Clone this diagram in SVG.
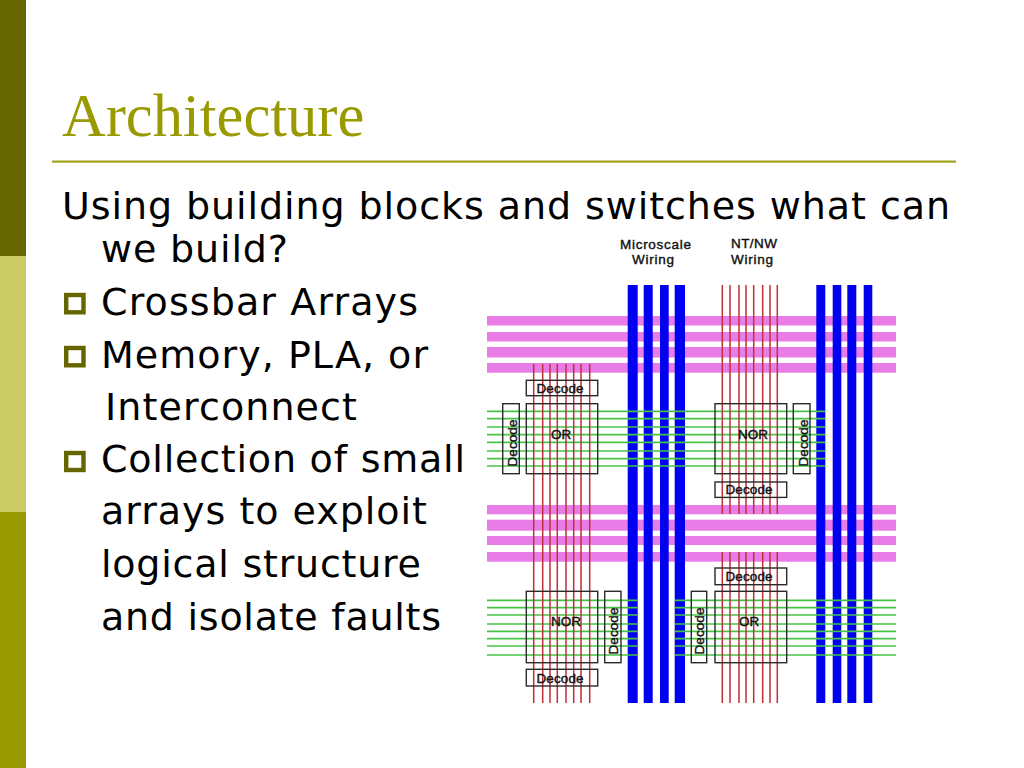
<svg xmlns="http://www.w3.org/2000/svg" width="1024" height="768" viewBox="0 0 1024 768">
<style>
.t{font-family:"DejaVu Sans",sans-serif;font-size:38px;fill:#000}
.s{font-family:"Liberation Sans",Arial,sans-serif;font-size:13.5px;fill:#111;stroke:#111;stroke-width:.4}
.c{text-anchor:middle}
.box{fill:none;stroke:#2a2a2a;stroke-width:1.4}
.pink{fill:#e87de8}
.blue{fill:#0000f0}
.red{stroke:#c03038;stroke-width:1.5;fill:none}
.green{stroke:#46c346;stroke-width:1.7;fill:none}
.bul{fill:none;stroke:#666600;stroke-width:4.4}
</style>
<rect width="1024" height="768" fill="#fff"/>
<g id="side-bars">
<rect x="0" y="0" width="26" height="256" fill="#666600"/>
<rect x="0" y="256" width="26" height="256" fill="#cccc66"/>
<rect x="0" y="512" width="26" height="256" fill="#999900"/>
</g>
<g id="title">
<text x="62" y="136" font-family="Liberation Serif,serif" font-size="60.5" fill="#999900">Architecture</text>
<rect x="52" y="160.5" width="904" height="2.2" fill="#a3a31f"/>
</g>
<g id="body">
<text class="t" x="62" y="219" textLength="888">Using building blocks and switches what can</text>
<text class="t" x="101" y="262" textLength="187">we build?</text>
<rect class="bul" x="66.2" y="295" width="17.3" height="17.3"/>
<text class="t" x="101" y="315" textLength="317">Crossbar Arrays</text>
<rect class="bul" x="66.2" y="348" width="17.3" height="17.3"/>
<text class="t" x="101" y="368" textLength="327">Memory, PLA, or</text>
<text class="t" x="105" y="420" textLength="252">Interconnect</text>
<rect class="bul" x="66.2" y="453" width="17.3" height="17"/>
<text class="t" x="101" y="472" textLength="364">Collection of small</text>
<text class="t" x="101" y="524" textLength="326">arrays to exploit</text>
<text class="t" x="101" y="577" textLength="320">logical structure</text>
<text class="t" x="101" y="630" textLength="340">and isolate faults</text>
</g>
<g id="figure-labels">
<text class="s" x="655.5" y="249" text-anchor="middle" textLength="71" lengthAdjust="spacing">Microscale</text>
<text class="s" x="653" y="264" text-anchor="middle" textLength="42" lengthAdjust="spacing">Wiring</text>
<text class="s" x="754" y="248" text-anchor="middle" textLength="46" lengthAdjust="spacing">NT/NW</text>
<text class="s" x="752" y="264" text-anchor="middle" textLength="42" lengthAdjust="spacing">Wiring</text>
</g>
<g id="connectors">
<g id="pink-wires" class="pink">
<rect x="487" y="316" width="409" height="9.5"/>
<rect x="487" y="332" width="409" height="9.5"/>
<rect x="487" y="347" width="409" height="10.5"/>
<rect x="487" y="363" width="409" height="9.7"/>
<rect x="487" y="505" width="409" height="9.3"/>
<rect x="487" y="519.7" width="409" height="11"/>
<rect x="487" y="536" width="409" height="9"/>
<rect x="487" y="552" width="409" height="9.7"/>
</g>
<g id="blue-wires" class="blue">
<rect x="627.7" y="285" width="10" height="418"/>
<rect x="643.7" y="285" width="9" height="418"/>
<rect x="660" y="285" width="8.7" height="418"/>
<rect x="674.7" y="285" width="10.3" height="418"/>
<rect x="816.3" y="285" width="9" height="418"/>
<rect x="832.7" y="285" width="8.6" height="418"/>
<rect x="847.3" y="285" width="9" height="418"/>
<rect x="863.7" y="285" width="8.6" height="418"/>
</g>
<path id="green-wires" class="green" d="M487 411.3H825.3M487 418.7H825.3M487 427H825.3M487 434.7H825.3M487 442.3H825.3M487 451H825.3M487 458.7H825.3M487 466H825.3M487 600.3H637.7M674.7 600.3H896M487 607.7H637.7M674.7 607.7H896M487 615H637.7M674.7 615H896M487 624H637.7M674.7 624H896M487 631.3H637.7M674.7 631.3H896M487 638.7H637.7M674.7 638.7H896M487 646H637.7M674.7 646H896M487 655H637.7M674.7 655H896"/>
<path id="red-wires" class="red" d="M533.7 364V703M542.7 364V703M550 364V703M557.3 364V703M566 364V703M573.7 364V703M581 364V703M589.7 364V703M722.3 285V514M730 285V514M739 285V514M746 285V514M753.7 285V514M762.7 285V514M770 285V514M777.3 285V514M722.3 552V703M730 552V703M739 552V703M746 552V703M753.7 552V703M762.7 552V703M770 552V703M777.3 552V703"/>
</g>
<g id="decode-top-left"><rect class="box" x="526.3" y="380.3" width="71.4" height="15.4"/><text class="s c" x="560" y="392.5" textLength="47">Decode</text></g>
<g id="or-top"><rect class="box" x="526.3" y="403.7" width="71.4" height="70"/><text class="s c" x="561" y="438.5">OR</text></g>
<g id="decode-left-top"><rect class="box" x="502.7" y="403.7" width="16.6" height="70"/><text class="s c" transform="translate(516.5 443) rotate(-90)" textLength="47">Decode</text></g>
<g id="nor-top"><rect class="box" x="715" y="403.7" width="71.7" height="70"/><text class="s c" x="753" y="438.5">NOR</text></g>
<g id="decode-right-top"><rect class="box" x="793.3" y="403.7" width="16.7" height="70"/><text class="s c" transform="translate(807.5 443) rotate(-90)" textLength="47">Decode</text></g>
<g id="decode-below-nor"><rect class="box" x="715" y="482" width="71.7" height="15.4"/><text class="s c" x="749" y="494" textLength="47">Decode</text></g>
<g id="decode-above-or"><rect class="box" x="715" y="568" width="71.7" height="16.7"/><text class="s c" x="749" y="581" textLength="47">Decode</text></g>
<g id="or-bottom"><rect class="box" x="715" y="591.3" width="71.7" height="71.4"/><text class="s c" x="749" y="626">OR</text></g>
<g id="decode-left-bottom"><rect class="box" x="691.3" y="591.3" width="15.4" height="71.4"/><text class="s c" transform="translate(704 631) rotate(-90)" textLength="47">Decode</text></g>
<g id="nor-bottom"><rect class="box" x="526.3" y="591.3" width="71.4" height="71.4"/><text class="s c" x="566" y="626">NOR</text></g>
<g id="decode-right-bottom"><rect class="box" x="604.7" y="591.3" width="16.3" height="71.4"/><text class="s c" transform="translate(618 631) rotate(-90)" textLength="47">Decode</text></g>
<g id="decode-bottom"><rect class="box" x="526.3" y="669.3" width="71.4" height="16.7"/><text class="s c" x="560" y="682.5" textLength="47">Decode</text></g>
</svg>
